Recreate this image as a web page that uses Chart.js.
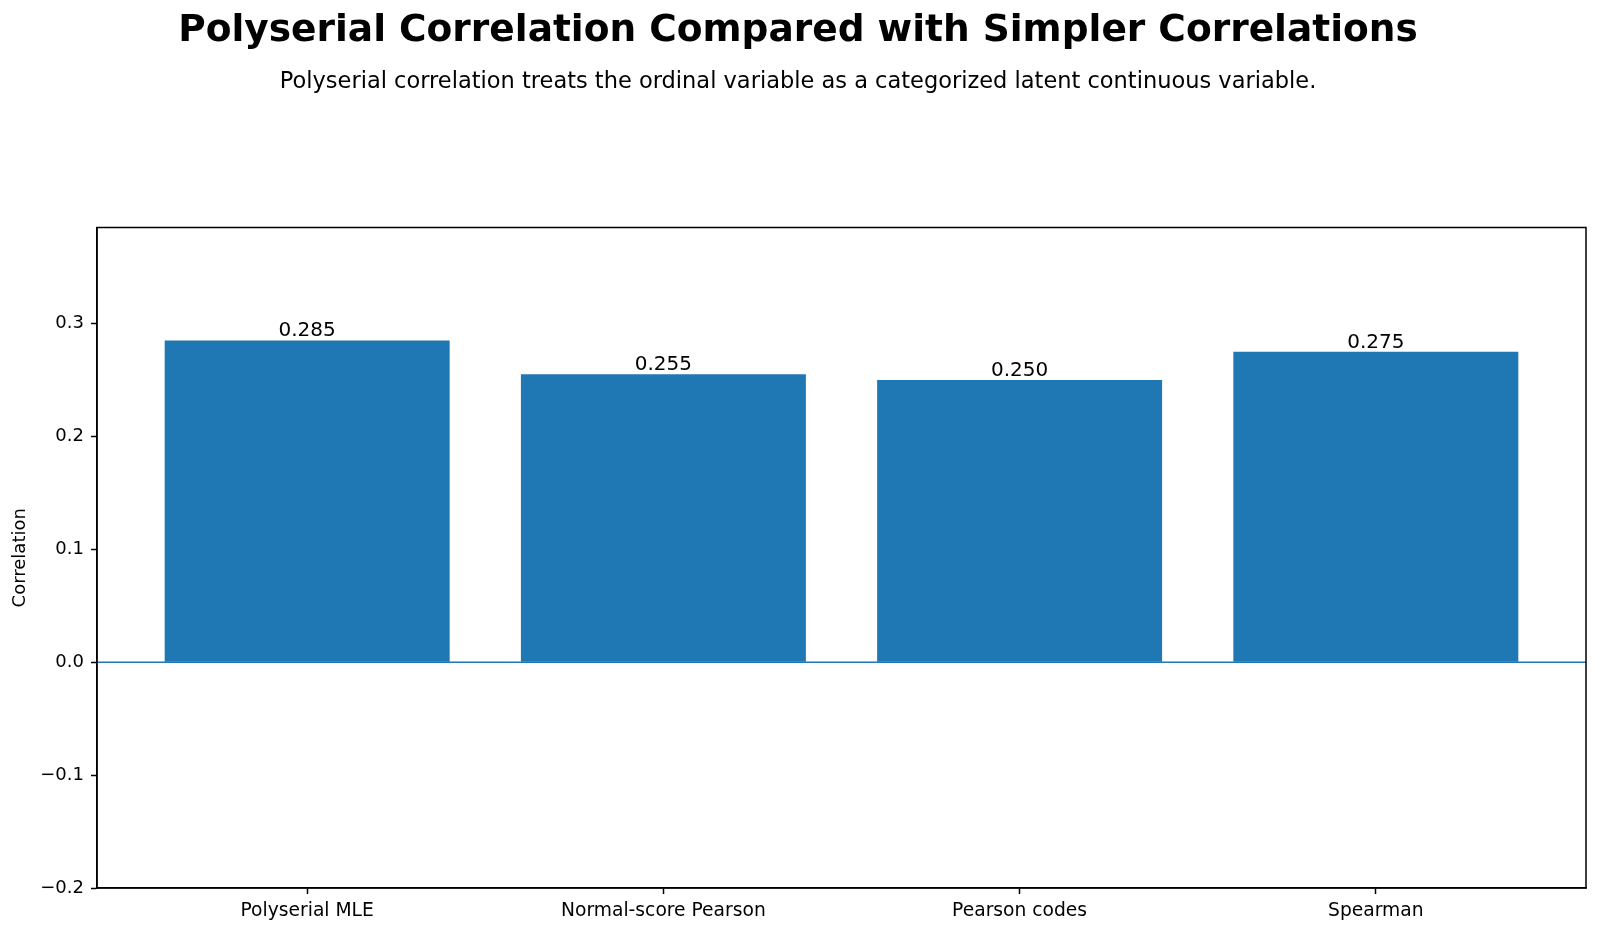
<!DOCTYPE html>
<html>
<head>
<meta charset="utf-8">
<script src="https://cdn.jsdelivr.net/npm/chart.js@4.4.1/dist/chart.umd.min.js"></script>
<style>
  html, body { margin: 0; padding: 0; background: #fff; }
  #wrap { width: 1600px; height: 933px; }
</style>
</head>
<body>
<div id="wrap"><canvas id="corr"></canvas></div>
<script>
const categories = ['Polyserial MLE', 'Normal-score Pearson', 'Pearson codes', 'Spearman'];
const correlations = [0.285, 0.255, 0.250, 0.275];
const yTicks = [-0.2, -0.1, 0.0, 0.1, 0.2, 0.3];
const yMin = -0.2;
const yMax = 0.385;

const blue = '#1f77b4';
const font = "'DejaVu Sans', sans-serif";

const fmtMinus = (s) => s.replace('-', '\u2212');

// frame, zero line and value labels
const extras = {
    id: 'extras',
    afterDatasetsDraw(chart) {
        const ctx = chart.ctx;
        const area = chart.chartArea;
        const y = chart.scales.y;
        const y0 = y.getPixelForValue(0);
        ctx.save();
        ctx.strokeStyle = blue;
        ctx.lineWidth = 1.5;
        ctx.beginPath();
        ctx.moveTo(area.left, y0);
        ctx.lineTo(area.right, y0);
        ctx.stroke();

        ctx.fillStyle = '#000';
        ctx.font = '20px ' + font;
        ctx.textAlign = 'center';
        ctx.textBaseline = 'alphabetic';
        chart.getDatasetMeta(0).data.forEach((bar, i) => {
            ctx.fillText(correlations[i].toFixed(3), bar.x, bar.y - 4);
        });

        ctx.strokeStyle = '#000';
        ctx.lineWidth = 1.5;
        ctx.strokeRect(area.left, area.top, area.right - area.left, area.bottom - area.top);
        ctx.restore();
    }
};

new Chart(document.getElementById('corr'), {
    type: 'bar',
    data: {
        datasets: [{
            data: categories.map((c, i) => ({ x: i, y: correlations[i] })),
            backgroundColor: blue,
            borderWidth: 0,
            categoryPercentage: 1,
            barPercentage: 0.8
        }]
    },
    options: {
        responsive: true,
        maintainAspectRatio: false,
        animation: false,
        layout: { padding: { left: 10, right: 14, top: 0, bottom: 0 } },
        plugins: {
            legend: { display: false },
            tooltip: { enabled: false },
            title: {
                display: true,
                text: 'Polyserial Correlation Compared with Simpler Correlations',
                color: '#000',
                font: { family: font, size: 37.5, weight: 'bold' },
                padding: { top: 9, bottom: 15 }
            },
            subtitle: {
                display: true,
                text: 'Polyserial correlation treats the ordinal variable as a categorized latent continuous variable.',
                color: '#000',
                font: { family: font, size: 22.5 },
                padding: { top: 0, bottom: 131.5 }
            }
        },
        scales: {
            x: {
                type: 'linear',
                min: -0.59,
                max: 3.59,
                offset: false,
                afterBuildTicks: (scale) => {
                    scale.ticks = categories.map((c, i) => ({ value: i }));
                },
                afterFit: (scale) => { scale.height = 45; },
                grid: {
                    offset: false,
                    drawOnChartArea: false,
                    tickLength: 6,
                    tickColor: '#000',
                    tickWidth: 1.5
                },
                border: { display: true, color: '#000', width: 1.5 },
                ticks: {
                    color: '#000',
                    font: { family: font, size: 18.7 },
                    padding: 6,
                    maxRotation: 0,
                    callback: (v) => categories[v]
                }
            },
            y: {
                min: yMin,
                max: yMax,
                afterBuildTicks: (scale) => {
                    scale.ticks = yTicks.map((v) => ({ value: v }));
                },
                afterFit: (scale) => { scale.width = 87; },
                grid: {
                    drawOnChartArea: false,
                    tickLength: 6,
                    tickColor: '#000',
                    tickWidth: 1.5
                },
                border: { display: true, color: '#000', width: 1.5 },
                ticks: {
                    color: '#000',
                    font: { family: font, size: 18 },
                    padding: 7,
                    callback: (v) => fmtMinus(Number(v).toFixed(1))
                },
                title: {
                    display: true,
                    text: 'Correlation',
                    color: '#000',
                    font: { family: font, size: 18 },
                    padding: 0
                }
            }
        }
    },
    plugins: [extras]
});
</script>
</body>
</html>
